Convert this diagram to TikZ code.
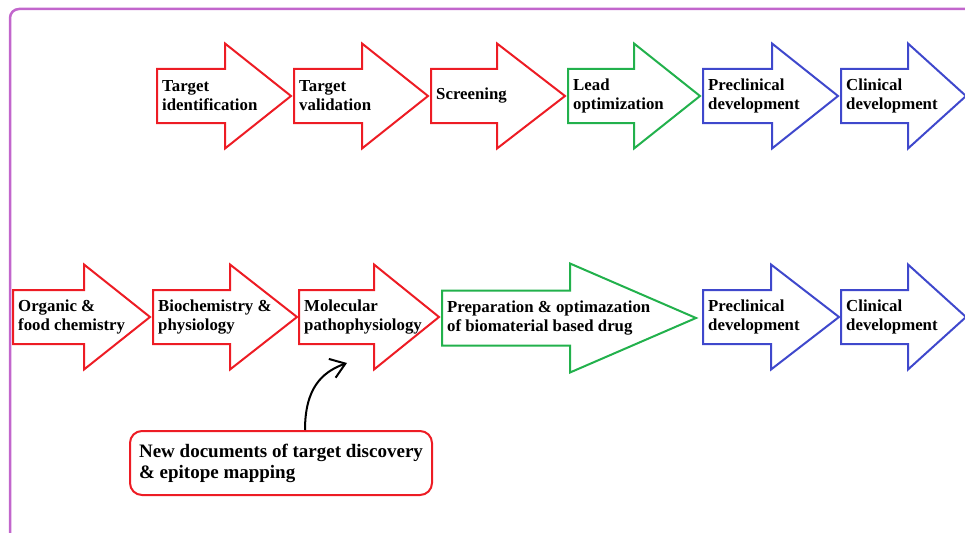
\documentclass[tikz,border=0pt]{standalone}
\usepackage{fontspec}
\setmainfont{Liberation Serif}
\usepackage{xcolor}
\usetikzlibrary{arrows.meta}
\definecolor{FontColor}{HTML}{000000}
\definecolor{RedNC}{HTML}{ED1C24}
\definecolor{GreenNC}{HTML}{22B14C}
\definecolor{BlueNC}{HTML}{3F48CC}
\definecolor{FrameNC}{HTML}{C266CC}
\newcommand\stagetid{Target\\identification}
\newcommand\stagetv{Target\\validation}
\newcommand\stagescr{Screening}
\newcommand\stagelead{Lead\\optimization}
\newcommand\stagepre{Preclinical\\development}
\newcommand\stagecli{Clinical\\development}
\newcommand\stageorg{Organic \&\\food chemistry}
\newcommand\stagebio{Biochemistry \&\\physiology}
\newcommand\stagemol{Molecular\\pathophysiology}
\newcommand\stageprep{Preparation \& optimazation\\of biomaterial based drug}
\newcommand\stagenote{New documents of target discovery\\\& epitope mapping}
\newcommand\bodyhalf{27}
\newcommand\headhalf{52.5}
\tikzstyle{stagetext} = [anchor=west, inner sep=0pt, align=left, text=FontColor, font=\fontsize{16.8}{19}\selectfont\bfseries]
\tikzstyle{rs} = [draw=RedNC, line width=2pt, line join=miter]
\tikzstyle{gs} = [draw=GreenNC, line width=2pt, line join=miter]
\tikzstyle{bs} = [draw=BlueNC, line width=2pt, line join=miter]
\tikzstyle{notebox} = [rectangle, rounded corners=12pt, draw=RedNC, line width=2pt, minimum width=302pt, minimum height=64pt, inner xsep=9pt, align=left, text=FontColor, font=\fontsize{19}{21}\selectfont\bfseries]
\newcommand\stagearrow[7]{
\draw[#6] (#2,#3-\bodyhalf) -- (#2+#4,#3-\bodyhalf) -- (#2+#4,#3-\headhalf) -- (#2+#4+#5,#3) -- (#2+#4,#3+\headhalf) -- (#2+#4,#3+\bodyhalf) -- (#2,#3+\bodyhalf) -- cycle;
\node[stagetext] (#1) at (#2+5,#3) {#7};
}
\tikzset{>=latex}

\begin{document}
\begin{tikzpicture}[x=1pt, y=-1pt]
\useasboundingbox (0,0) rectangle (965,532);
\clip (0,0) rectangle (965,532);
\draw[draw=FrameNC, line width=2.5pt, rounded corners=9pt] (10,9) rectangle (1000,560);
\stagearrow{tid}{157}{96}{68}{66}{rs}{\stagetid}
\stagearrow{tv}{294}{96}{68}{66}{rs}{\stagetv}
\stagearrow{scr}{431}{96}{66}{68}{rs}{\stagescr}
\stagearrow{lead}{568}{96}{66}{66}{gs}{\stagelead}
\stagearrow{pre}{703}{96}{69}{66}{bs}{\stagepre}
\stagearrow{cli}{841}{96}{67}{58}{bs}{\stagecli}
\stagearrow{org}{13}{317}{71}{66}{rs}{\stageorg}
\stagearrow{bio}{153}{317}{77}{67}{rs}{\stagebio}
\stagearrow{mol}{299}{317}{75}{65}{rs}{\stagemol}
\renewcommand\bodyhalf{27.5}
\renewcommand\headhalf{54.5}
\stagearrow{prep}{442}{318}{128}{126}{gs}{\stageprep}
\renewcommand\bodyhalf{27}
\renewcommand\headhalf{52.5}
\stagearrow{pre2}{703}{317}{68}{68}{bs}{\stagepre}
\stagearrow{cli2}{841}{317}{67}{58}{bs}{\stagecli}
\node[notebox] (note) at (281,463) {\stagenote};
\coordinate (molin) at (347,363);
\draw[line width=2pt, -{Straight Barb[length=14pt, width=20pt]}] ([xshift=24pt]note.north) .. controls (305,388) and (322,372) .. (molin);
\end{tikzpicture}
\end{document}
